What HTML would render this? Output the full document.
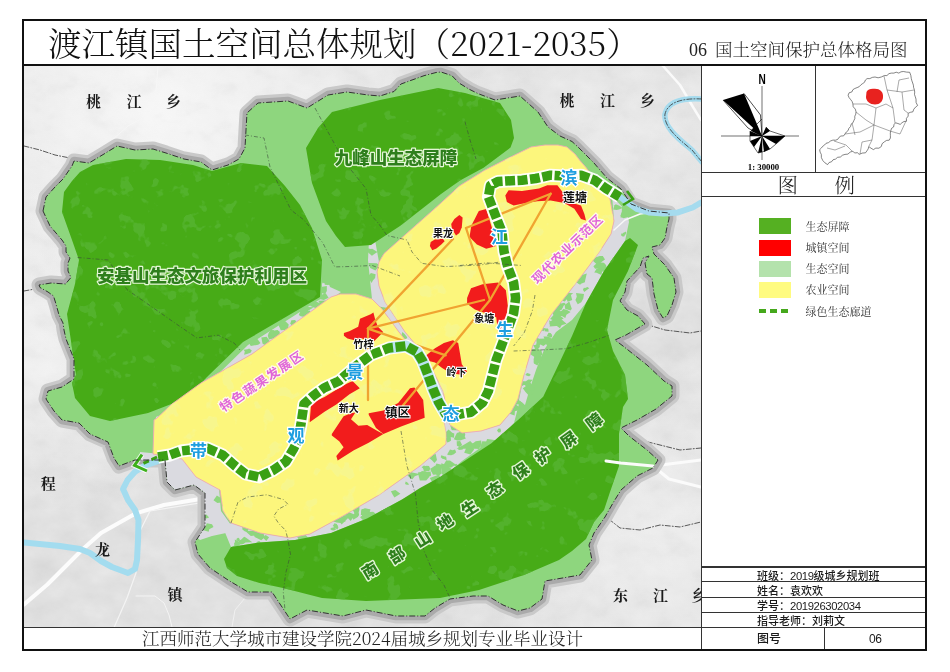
<!DOCTYPE html>
<html><head><meta charset="utf-8">
<style>
html,body{margin:0;padding:0;background:#fff;}
body{width:950px;height:672px;position:relative;overflow:hidden;font-family:"Liberation Serif","Noto Serif CJK SC",serif;}
.abs{position:absolute;}
#frame{left:22px;top:19px;width:901px;height:628px;border:2px solid #111;}
#title{left:48px;top:20px;height:44px;line-height:44px;font-size:33.5px;color:#111;white-space:nowrap;font-family:"Noto Serif CJK SC",serif;font-weight:300;}
#sub{left:689px;top:37px;font-size:17.5px;line-height:24px;color:#222;white-space:nowrap;font-family:"Noto Serif CJK SC",serif;font-weight:300;}
#hline1{left:24px;top:64px;width:901px;height:2px;background:#111;}
#map{left:24px;top:66px;width:677px;height:561px;overflow:hidden;}
#panel{left:701px;top:66px;width:224px;height:583px;border-left:1.5px solid #333;box-sizing:border-box;}
#foot{left:24px;top:627px;width:677px;height:22px;border-top:1px solid #333;text-align:center;font-size:17.5px;line-height:20px;color:#222;white-space:nowrap;font-family:"Noto Serif CJK SC",serif;font-weight:300;}
.ln{position:absolute;background:#333;}
.info{position:absolute;left:757px;font-family:"Noto Sans CJK SC",sans-serif;font-weight:500;font-size:11px;line-height:14px;color:#1a1a1a;white-space:nowrap;}
.info .d{font-family:"Liberation Sans",sans-serif;font-weight:normal;letter-spacing:-0.4px;font-size:11.3px;}
.leg{position:absolute;left:805.5px;font-family:"Noto Serif CJK SC",serif;font-size:11px;color:#333;white-space:nowrap;}
.sw{position:absolute;left:759px;width:32px;height:16px;}
</style></head><body>
<div id="frame" class="abs"></div>
<div id="title" class="abs">渡江镇国土空间总体规划（2021-2035）</div>
<div id="sub" class="abs"><span style="font-family:'Liberation Serif',serif;font-size:18px">06</span><span style="position:absolute;left:26px;top:0">国土空间保护总体格局图</span></div>
<div id="hline1" class="abs"></div>
<div id="map" class="abs">
<svg width="677" height="561" viewBox="24 66 677 561">
<defs>
<radialGradient id="bgl" cx="0.2" cy="0.08" r="0.5"><stop offset="0" stop-color="#f6f6f6"/><stop offset="1" stop-color="#f6f6f6" stop-opacity="0"/></radialGradient>
<radialGradient id="bgl2" cx="0.95" cy="0.85" r="0.35"><stop offset="0" stop-color="#ececec"/><stop offset="1" stop-color="#ececec" stop-opacity="0"/></radialGradient>
<radialGradient id="bgl3" cx="0.02" cy="0.5" r="0.3"><stop offset="0" stop-color="#f0f0f0"/><stop offset="1" stop-color="#f0f0f0" stop-opacity="0"/></radialGradient>
<radialGradient id="bgl4" cx="0.85" cy="0.12" r="0.3"><stop offset="0" stop-color="#e9e9e9"/><stop offset="1" stop-color="#e9e9e9" stop-opacity="0"/></radialGradient>
<path id="bnd" d="M43,211 L46,197 L55,187 L63,179 L72,166 L74,161 L89,163 L104,154 L117,146 L135,150 L153,149 L166,153 L184,159 L201,162 L212,170 L228,165 L239,159 L245,148 L246,130 L247,113 L258,103 L288,101 L307,108 L328,95 L347,92 L368,95 L380,96 L394,91.5 L401,84 L412,80 L424,75.7 L436,72.5 L441,72 L452,75.7 L459,83 L469.5,89.4 L478,93.6 L495,100 L520,96 L538,112 L548,127 L560,136 L572,141.5 L578,147 L586,155 L594,163 L600,170 L607,178 L621,189 L631,204 L649,211 L669,213 L669,219 L667,227 L665,238 L660,245 L652,247 L654,254 L665,265 L674,278 L676,292 L672,305 L667,316 L663,318 L658,310 L654,294 L652,278 L647,274 L645,263 L649,256 L643,258 L640,267 L627,281 L625,292 L620,301 L627,310 L638,316 L645,324 L626,335 L615,340 L623,346 L647,365 L664,381 L672,386 L672,396 L656,409 L637,420 L621,428 L629,436 L647,450 L658,460 L653,468 L637,476 L621,490 L613,503 L605,517 L594,533 L589,545 L592,560 L580,575 L545,581 L542,599 L530,608 L518,611 L503,605 L488,596 L473,596 L450,599 L435,608 L425,616 L396,616 L366,610 L343,616 L307,610 L290,619 L284,610 L272,592 L248,592 L228,580 L210,568 L198,554 L195,542 L205,527 L205,493 L194,485 L175,490 L167,482 L165,460 L135,460 L127,463 L119,466 L114,458 L108,442 L90,434 L79,423 L62,420 L54,411 L46,399 L48,391 L62,387 L74,379 L74,359 L66,339 L64,330 L63,323 L59,315 L56,304 L53.5,296 L48,292 L40,287.5 L39,285 L51,283 L65.5,284 L71,277.5 L68,271 L68,263 L70,258 L66,252 L66,246 L62,240 L50,226 Z"/>
<filter id="hill" x="0" y="0" width="1" height="1" filterUnits="objectBoundingBox" color-interpolation-filters="sRGB"><feTurbulence type="fractalNoise" baseFrequency="0.035 0.05" numOctaves="4" seed="21" result="n"/><feColorMatrix in="n" type="matrix" values="0 0 0 0 1  0 0 0 0 1  0 0 0 0 1  1.6 0 0 0 -0.75" result="w"/><feComposite in="w" in2="SourceAlpha" operator="in"/></filter>
<filter id="hill2" x="0" y="0" width="1" height="1" filterUnits="objectBoundingBox" color-interpolation-filters="sRGB"><feTurbulence type="fractalNoise" baseFrequency="0.035 0.05" numOctaves="4" seed="21" result="n"/><feColorMatrix in="n" type="matrix" values="0 0 0 0 0.5  0 0 0 0 0.5  0 0 0 0 0.5  -1.6 0 0 0 0.72" result="w"/><feComposite in="w" in2="SourceAlpha" operator="in"/></filter>
<clipPath id="townclip"><use href="#bnd"/></clipPath>
<filter id="mot" x="0" y="0" width="1" height="1" filterUnits="objectBoundingBox" color-interpolation-filters="sRGB"><feTurbulence type="fractalNoise" baseFrequency="0.06" numOctaves="3" seed="11" result="n"/><feColorMatrix in="n" type="matrix" values="0 0 0 0 0.34  0 0 0 0 0.71  0 0 0 0 0.2  16 0 0 0 -10.0" result="p"/><feComposite in="p" in2="SourceAlpha" operator="in"/></filter>
<filter id="moty" x="0" y="0" width="1" height="1" filterUnits="objectBoundingBox" color-interpolation-filters="sRGB"><feTurbulence type="fractalNoise" baseFrequency="0.05" numOctaves="3" seed="5" result="n"/><feColorMatrix in="n" type="matrix" values="0 0 0 0 0.96  0 0 0 0 0.97  0 0 0 0 0.6  16 0 0 0 -10.0" result="p"/><feComposite in="p" in2="SourceAlpha" operator="in"/></filter>
</defs>
<rect x="24" y="66" width="677" height="561" fill="#e0e0e0"/>
<rect x="24" y="66" width="677" height="561" fill="url(#bgl)"/>
<rect x="24" y="66" width="677" height="561" fill="url(#bgl2)"/>
<rect x="24" y="66" width="677" height="561" fill="url(#bgl3)"/>
<rect x="24" y="66" width="677" height="561" fill="url(#bgl4)"/>
<rect x="24" y="66" width="677" height="561" fill="#000" filter="url(#hill)" opacity="0.35"/>
<rect x="24" y="66" width="677" height="561" fill="#000" filter="url(#hill2)" opacity="0.12"/>
<g fill="none" stroke-linejoin="round" stroke-linecap="round">
<path d="M663,66 L680,85 L693,107 L701,120" stroke="#fafafa" stroke-width="2.5"/>
<path d="M220,495.7 L164,505 L136,513.3 L101,533 L82.4,549.5 L47.4,584.5 L24,604.5" stroke="#fcfcfc" stroke-width="4"/>
<path d="M136,596 L155,596 L164,603 L169,615 L172,627" stroke="#f4f4f4" stroke-width="1"/>
<path d="M212,501 L150,511 L139,533 L136,573 L127,598 L113,630" stroke="#f4f4f4" stroke-width="1.2"/>
<path d="M620,463 L653,466 L701,460" stroke="#fbfbfb" stroke-width="3"/>
<path d="M653,466 L669,479 L701,487" stroke="#fbfbfb" stroke-width="3"/>
<path d="M158,66 L156,91 L146,116 L128,126 L112,140" stroke="#f6f6f6" stroke-width="1"/>
<path d="M250,592 L235,610 L232,627" stroke="#f0f0f0" stroke-width="1"/>
<path d="M702,99 C685,98 668,101 665,114 C663,127 680,140 692,150 L702,162" stroke="#a5dbee" stroke-width="5.5"/>
<g stroke="#333" stroke-width="0.8" stroke-dasharray="5 2 1 2">
<path d="M702,99 C685,98 668,101 665,114 C663,127 680,140 692,150 L702,162"/>
<path d="M701,202.6 L692.7,207.5 L678,212.4 L663.4,213.6 L648.8,212.4"/>
<path d="M24,146 L40,150 L55,155 L70,158"/>
<path d="M24,291 L35,289 L42,287"/>
<path d="M645,324 L665,330 L690,333 L701,331"/>
<path d="M621,428 L640,440 L660,445 L680,450 L701,448"/>
<path d="M599,522 L610,520 L620,528 L640,530 L660,525 L680,527 L701,522"/>
</g>
</g>
<use href="#bnd" fill="none" stroke="#c9c9c9" stroke-width="15" stroke-linejoin="round"/>
<use href="#bnd" fill="none" stroke="#aaaaaa" stroke-width="8.5" stroke-linejoin="round"/>
<use href="#bnd" fill="#8ed67e"/>
<g clip-path="url(#townclip)">
<path fill="#dadae0" d="M341,292 L330,287 L326,276 L322,284 L322,298 L248,345 L212,380 L192,401 L156,417 L154,445 L160,420 L172,404 L201,383 L252,354 Z"/>
<path fill="#dadae0" d="M596,178 L612,195 L614,221 L611,234 L600,251 L589,266 L573,287 L551,315 L533,345 L524,375 L519,400 L525,405 L530,388 L536,370 L544,350 L556,332 L572,320 L586,303 L604,271 L625,241 L629,222 L627,212 L612,196 L600,182 Z"/>
<path fill="#dadae0" d="M446,430 L446,444 L420,466 L379,495 L343,516 L310,534 L290,538 L260,533 L231,523 L224,530 L231,547 L259.5,542.4 L295,540 L331,533 L367,518.6 L402,499.5 L420,490 L440,480 L462,461 L480,448 L500,438 L514,423 L520,400 L511,412 L500,425 L481,431 Z"/>
<path fill="#dadae0" d="M140,452 L183,456 L219,488 L221,511 L231,525 L226,533 L212,536 L200,540 L192,533 L172,522 L150,500 L140,470 Z"/>
<path fill="#dadae0" d="M369,240 L375,240 L379,262 L377,272 L379,286 L385,302 L405,332 L421,351 L433,371 L443,391 L450,425 L455,440 L446,446 L442,411 L435,395 L428,377 L419,361 L410,346 L399,332 L382,309 L372,299 L370,280 L368,260 Z"/>
<g fill="#8ed67e">
<path d="M328.6,297.7 L323.8,299.9 L319.3,299 L318.7,295.7 L325.7,293.3 Z"/>
<path d="M322.8,304.5 L315.4,307.9 L310.2,306 L310.4,301.1 L316.6,301.7 Z"/>
<path d="M326.8,291 L325.1,294 L322.7,293.6 L319.3,291 L317.6,288.1 L320.8,286.9 L326.8,286 Z"/>
<path d="M288.7,324.6 L287.8,329.7 L280.8,330.3 L278.4,324.6 L280.9,321 L285.4,321.3 Z"/>
<path d="M327.9,304.2 L325.8,305.3 L321.5,306.2 L318.2,300.8 L325.9,300.4 Z"/>
<path d="M280,332.1 L278.4,335 L276.5,334 L275,332.9 L274.5,331.6 L275.9,330.6 L278.4,330.8 Z"/>
<path d="M177.1,407.6 L174.9,408.7 L173.3,408.4 L172.3,407.5 L171.8,405.9 L173.5,404.8 L175.2,404.6 Z"/>
<path d="M163.8,415.5 L161.9,416.9 L161.2,417.4 L158.4,418.2 L158.5,416.3 L160.1,414.6 L161.5,413.3 L162.5,413.3 Z"/>
<path d="M177.4,406 L177.8,409.1 L175.6,408.4 L172.5,408.3 L173.9,405.4 L175.4,403.6 L178.1,403.3 Z"/>
<path d="M305.9,314.4 L304.3,317.1 L300.8,316.3 L298.8,314.9 L299.6,313 L301,310.4 L304.8,311.5 Z"/>
<path d="M330,282.9 L330.8,284.4 L327.9,285 L324.6,284.7 L325.2,283.1 L326.3,281.2 L328.4,281.5 L329,282 Z"/>
<path d="M190.9,398.3 L188.3,399.9 L186,400.7 L184.7,398.4 L186.8,397.1 L188,398 Z"/>
<path d="M285.4,327 L284.4,329 L281.9,328 L280,327.6 L279,325.8 L282.3,325.9 L283.5,325.1 Z"/>
<path d="M297.1,323.8 L295.7,326.2 L292.4,325.8 L290.2,323.7 L291.4,320.3 L295.2,319.9 Z"/>
<path d="M330.5,280.4 L330.8,283.2 L324.2,283.5 L322,282 L322,280.3 L323.7,276.8 L324.5,276.1 L329.1,274.8 Z"/>
<path d="M260.5,342.9 L258.2,344.7 L250.8,346 L247.6,340.8 L253.4,339.9 L256.4,337.8 Z"/>
<path d="M207.8,385.2 L206.7,389.6 L201.6,388.1 L201.7,383.6 L205.4,383.4 Z"/>
<path d="M282.2,333.5 L274.8,337.9 L273,338.4 L268.9,339.6 L267.8,335.7 L268.6,333.1 L270.8,330.1 L277,333.3 Z"/>
<path d="M270.8,342.8 L265.8,346 L262.5,343.6 L261.3,337.4 L266.6,336.8 Z"/>
<path d="M251.8,350.5 L250.5,352.7 L246.9,353.9 L244.1,354.8 L244.8,351.4 L243.6,349.7 L247.4,349.3 L249.2,348.6 Z"/>
<path d="M312.9,313.5 L312.6,315.1 L309.3,315 L306.6,315.1 L305.9,312.8 L309.3,310.3 L310.6,312.3 Z"/>
<path d="M162.2,421.5 L160.1,423.7 L156.6,425.5 L153.2,421.4 L157.1,419 L161.7,419.6 Z"/>
<path d="M278.6,333.2 L278.4,337.5 L275,334.9 L271.7,331 L277.9,330.1 Z"/>
<path d="M204.4,384.7 L202.9,387.5 L200.8,387.5 L199.4,386.4 L194.2,383.3 L201.5,383.5 L205.4,382.9 Z"/>
<path d="M308,310.8 L310.9,313.6 L305.3,317 L301.4,313.2 L298.2,309.3 L302.6,308.8 L306.5,307 L313.8,307.3 Z"/>
<path d="M273.9,332.3 L277.3,335 L272.9,336.7 L270.5,334.5 L269.6,332.4 L270.5,329.8 L273.5,330.3 L274.2,329.6 Z"/>
<path d="M552.1,334.8 L552.1,336.8 L551,337.8 L549.5,336.9 L546.8,335.9 L548.5,332.7 L550.6,333.1 L551.8,334.5 Z"/>
<path d="M605,259.4 L600.8,262.5 L598.1,265.6 L595.3,262.9 L592.6,260.5 L596,257.3 L599.7,256 L602.8,256 Z"/>
<path d="M570.8,296.5 L567.6,298.4 L564.6,301.6 L560.3,299.8 L561.1,295.8 L564.4,294.7 L568.5,293.9 Z"/>
<path d="M545.4,328.8 L543.3,331.3 L541.1,330 L541,327.9 L543.5,327.6 Z"/>
<path d="M555.9,340.7 L556.4,342.4 L547.3,345.9 L545,342.2 L544.1,338.1 L543.4,336.6 L548.6,336.6 L550.6,337.9 Z"/>
<path d="M561.8,324.8 L559.9,328.3 L557.2,326.2 L551.6,323.1 L556.7,320.1 L559.6,322.8 Z"/>
<path d="M571.8,308.7 L570.6,310.5 L565.1,308.7 L564.8,304.9 L569.3,301.6 Z"/>
<path d="M622.8,208 L618.9,209.6 L616.6,209.9 L613.2,209.5 L614.5,205.3 L615.8,204.3 L618.8,205.4 Z"/>
<path d="M606.2,265.3 L605.7,269.5 L601.3,268.2 L595.1,268.8 L593.4,266.2 L598.2,262.1 L601.2,262.4 L603.9,262.7 Z"/>
<path d="M548.4,329.4 L548.6,331.8 L546.3,331.6 L544.6,331.2 L544.7,328.3 L545.8,328.6 L547.9,328.6 Z"/>
<path d="M529.8,382.9 L532.2,384.9 L526.3,386.9 L524.4,384.3 L520.2,381.3 L525.8,381.2 L528.4,379.5 L532.8,379.7 Z"/>
<path d="M539.5,361.7 L536.9,363 L535.3,363.6 L534.4,362.9 L533.7,362.2 L534,361.1 L535.4,360.2 L537.4,359.9 Z"/>
<path d="M563.7,318.4 L561.3,319.8 L558.2,324.3 L555.3,321.1 L550.1,319 L553.3,315.2 L557.8,314.4 L560.5,315.9 Z"/>
<path d="M606.6,269.5 L605.3,271.5 L602.1,271.5 L600.6,272.9 L598.8,269 L596,265.6 L604.2,264.9 L607.4,267 Z"/>
<path d="M631.9,212.2 L628.5,216.9 L623.5,218.3 L620.3,216 L621.7,212.6 L624.2,211.1 L627.8,211.1 Z"/>
<path d="M539.3,347.8 L538.2,348.8 L536.3,351.8 L534.8,348.8 L534.8,347.9 L533,345.2 L537.4,344.5 L540.1,345.7 Z"/>
<path d="M625.1,234.6 L624.2,236.6 L622.5,236.6 L621.3,235.2 L621,233.5 L623.8,234.2 Z"/>
<path d="M570.6,312.1 L566.4,314.8 L565.3,317.9 L561.8,316.1 L558,311.5 L561.6,311 L563.3,308.9 L566.7,309.8 Z"/>
<path d="M589.3,288.3 L587.1,289.8 L584.3,292 L582.9,289.8 L583.9,287.8 L585.1,287.9 L587.5,287 Z"/>
<path d="M563.4,306.6 L561.2,310.2 L554.5,310 L556.3,306.7 L555.5,303.1 L560.7,302.2 Z"/>
<path d="M554.4,322.3 L553.5,323.7 L551,324.3 L549.2,324.6 L549.5,322.9 L549.1,320.3 L551.3,321.4 L552.4,321.8 Z"/>
<path d="M548.3,342.4 L543.4,346 L539,343.8 L541.1,340.3 L546.3,338.4 Z"/>
<path d="M585.2,280.3 L584.9,282.2 L579.6,284.2 L578.2,283.2 L579.2,277.8 L581.2,275.3 L586.8,273.5 Z"/>
<path d="M582.3,280.8 L580.3,284.7 L574.8,281.6 L575.7,278.4 L580.5,276.8 Z"/>
<path d="M565.9,304.2 L562.9,306.2 L562.5,307.1 L560.8,307.5 L559.1,304.6 L561.3,304 L562.1,303.3 L564.3,302.8 Z"/>
<path d="M566.6,323.8 L558.6,326 L556.2,326.1 L549.6,326.6 L550.9,321 L554.9,318.2 L560.5,318.6 Z"/>
<path d="M570.9,295.1 L572.2,299.9 L567.7,301.8 L565.8,297.1 L564.8,295 L566.5,292.4 L573.2,293.3 Z"/>
<path d="M631,212.7 L626.6,215 L623.5,217.6 L620.5,217.5 L621.8,211.8 L621.9,208.5 L622.2,206.5 L627.1,209.4 Z"/>
<path d="M531.2,390.2 L532.3,394.6 L529.2,396 L525.5,392.1 L522.8,388.2 L527.9,384.9 L531.6,388.8 Z"/>
<path d="M583.3,298.4 L581.3,302.3 L577.7,304.3 L575.4,300.1 L576.8,296.7 L576,292.9 L584,293.9 Z"/>
<path d="M561,322.4 L561.8,324.5 L558.7,323.6 L555.6,323.2 L557.3,320.7 L558.3,320 L559.8,321.2 Z"/>
<path d="M560.9,313.4 L563.1,315.7 L554.2,317.5 L553.6,315.6 L551.7,311 L552.1,306.4 L554.3,306.8 L559,307.7 Z"/>
<path d="M602.4,270.4 L601.4,275.1 L599.2,273.9 L596.5,272.8 L594.2,272.5 L596.6,268.8 L599.1,268 L601.6,268.4 Z"/>
<path d="M530.6,375.1 L529.2,376.2 L527.9,376.1 L527,375.8 L525.5,374.9 L525.8,373.9 L527.3,373.1 L530.1,374 Z"/>
<path d="M545.1,341.2 L541.1,343.3 L539.3,346 L535.9,346.5 L536.6,342.2 L535.6,335.6 L538.8,338.7 L546.3,338.4 Z"/>
<path d="M542.7,359 L539,362.8 L537.4,365.4 L533.9,363.6 L533.6,359.3 L534.5,356.3 L537.1,353.8 L541.5,356.3 Z"/>
<path d="M626.2,233.1 L625.4,234.5 L625.1,234.9 L623.6,234.7 L622.2,233.6 L623.9,232.5 L624.7,232.2 L625.9,231.4 Z"/>
<path d="M535,388.6 L533.3,391.1 L528.9,389.5 L526.8,389 L524.7,387.1 L527.6,386 L530.2,382.1 L532.2,386.3 Z"/>
<path d="M525.5,383.9 L525.9,385.1 L523.8,385 L522.1,385.9 L521.5,383.9 L522.5,382.8 L523.8,382.7 L525.7,383 Z"/>
<path d="M542.5,355.1 L536.6,358 L533.8,356.5 L528.7,353.3 L530.4,348.7 L541.1,349.5 Z"/>
<path d="M408.3,483.5 L408.9,484.9 L405.7,484.6 L405.2,483.5 L405.6,481.5 L407.2,482.3 Z"/>
<path d="M431.1,475.5 L429.3,476.4 L427.9,477.4 L423.1,477.4 L421.1,475.5 L421.5,471 L427.6,472.1 L430.6,471.4 Z"/>
<path d="M488.6,445.7 L485.6,447 L483.8,449.2 L480.4,448 L480.2,445.7 L481.8,443.5 L482.2,441.3 L487.8,441.6 Z"/>
<path d="M309.3,538.9 L302.5,540.6 L300.9,541.4 L298,540 L298.3,539.1 L296.5,535.5 L299.2,532.7 L305.1,534.4 Z"/>
<path d="M437,460.1 L434.4,463 L432.4,460.7 L428.4,457.2 L435.6,453.7 Z"/>
<path d="M523.6,403.6 L518.2,404.4 L515.3,403.8 L514.9,401.2 L519.5,400.9 Z"/>
<path d="M501,430.4 L500.6,432.3 L498.5,432.5 L497,430.5 L498.5,428.5 L500.3,428.5 Z"/>
<path d="M355,514.8 L350.7,520.9 L346.3,516.4 L344.3,511.6 L348.4,511.9 Z"/>
<path d="M370,511.4 L366.7,515.5 L363.4,515 L360.8,514.9 L361.5,509.4 L365.3,508.4 L370.4,509.3 Z"/>
<path d="M265,537.3 L261.2,540.3 L257.2,538.2 L254.6,537.1 L253.1,531.7 L262.4,530.9 Z"/>
<path d="M437.5,471.1 L435.4,473.1 L434,475.3 L432,472.4 L430.9,471 L430.4,468.7 L434.9,465.8 L436.6,469 Z"/>
<path d="M454.3,433.6 L454,437.7 L450.6,437.1 L446.6,437.2 L443.1,433.8 L446,431.9 L448.6,429.6 L452.2,432.7 Z"/>
<path d="M261,542.5 L259.8,543.3 L255.8,543.3 L257.6,541.6 L259.2,541.1 Z"/>
<path d="M474.1,449.4 L470.4,454.4 L464.2,452.8 L466.7,446.6 L471.8,444.9 Z"/>
<path d="M420.3,474.3 L414.7,476.3 L412.5,479.3 L409.8,477.7 L407.3,475.3 L410,470.7 L412.2,472.5 L415.9,473.3 Z"/>
<path d="M440,481.3 L439.5,482.6 L436.6,483.5 L434.3,484.5 L434.6,480.8 L432.3,477.2 L437.4,477.7 L440.6,477.8 Z"/>
<path d="M457.6,465.6 L456.6,466.1 L456,466.2 L454.4,466.1 L454.4,465.1 L456.1,463.8 L456.9,464.2 Z"/>
<path d="M455.7,464.5 L451,467.7 L443,465.8 L446.2,460.4 L450,460.6 Z"/>
<path d="M338.4,527.3 L337.5,529.4 L335.8,528.5 L332.6,528.8 L334.1,527.2 L335.3,526.4 L336.4,524.4 L337.4,525.2 Z"/>
<path d="M237.6,544.9 L240.8,547.6 L235.3,548.6 L231.7,547 L234.3,545.4 L234.1,543.1 L237.1,540.5 L237.2,543.1 Z"/>
<path d="M248.6,529.5 L247.7,531.1 L245,531.6 L242.4,529.4 L242.3,526.8 L244.7,526.9 L247.5,526.4 Z"/>
<path d="M450.9,439.1 L450.8,440.9 L448,441.5 L446.3,439.1 L444.9,437.9 L447.8,436.9 L450.5,435.1 Z"/>
<path d="M449.4,472.9 L447.6,476.7 L444.7,477.6 L441.3,473 L445.3,469.8 L449.7,467.7 Z"/>
<path d="M429.4,476.7 L426.2,480.4 L419.8,480.4 L417.8,472.5 L425.3,471.2 Z"/>
<path d="M375.5,513.6 L372.5,519 L369,517.7 L361.6,514.8 L368.9,512.1 L373.1,511.8 Z"/>
<path d="M258.8,533.2 L255.1,535.5 L250.8,535.9 L245.2,531.1 L252.4,530.7 L257.3,529.6 Z"/>
<path d="M348.6,517.4 L341.6,524.4 L338.3,519.9 L338.6,516.8 L344.9,514.7 Z"/>
<path d="M465.9,438.4 L460.1,440.6 L457.2,440.4 L453.8,439.3 L456.9,432.9 L461.4,431.6 Z"/>
<path d="M368.6,513 L366.6,513.6 L365.2,514.1 L362.3,516.3 L361.1,512 L361.7,509.5 L364.6,508.4 L367.8,509 Z"/>
<path d="M461.7,434.8 L462.4,436.6 L459.9,436.5 L457.3,434.6 L460,433.4 L462.3,432.6 Z"/>
<path d="M239.7,539.2 L239.8,541.4 L237.9,540.9 L236.4,540.3 L236.6,538.7 L238,537.8 L238.9,538.1 Z"/>
<path d="M345,517.3 L344.8,520 L340,520 L338.4,516.8 L341.1,513.5 L344.1,513 Z"/>
<path d="M450.7,440 L450.1,441 L448.9,442.1 L447,442.4 L445.5,439.2 L444,438.2 L448.2,437 L450.2,439.2 Z"/>
<path d="M451.7,469.3 L446.5,473.7 L441.5,473.3 L441.2,467.6 L441.3,463.3 L447.4,465.4 Z"/>
<path d="M371.4,517.1 L371.6,520.7 L364.3,521.6 L360.1,517.3 L364.6,513.3 L368.7,515.2 Z"/>
<path d="M345.8,521.3 L340.7,523.1 L336.6,522.6 L328.9,519.9 L336.1,517.3 L340.7,515.2 Z"/>
<path d="M456.2,452.2 L453.9,454.2 L451.2,455.2 L447.5,455.1 L447.4,453.9 L450,449.6 L452.7,450.2 L455,449.4 Z"/>
<path d="M522.2,409.3 L514.9,411.3 L514.6,415.4 L510.2,414.1 L508.3,409.8 L511,407.7 L514.1,403.3 L516.2,404.7 Z"/>
<path d="M499,440.7 L494.5,447.8 L485.1,444.8 L487.1,439.1 L491.2,439.4 Z"/>
<path d="M440.6,479.1 L436.9,486 L432.4,482.6 L429.8,478.1 L439.1,474.4 Z"/>
<path d="M463.3,448.2 L462.7,449.4 L461.2,449.7 L458.4,450 L458.6,446.8 L461.2,446.9 L463.3,446.9 Z"/>
<path d="M336.3,529.3 L334,530.4 L331.8,530.2 L330.1,529 L331.7,527.7 L333.8,527.5 Z"/>
<path d="M269.1,537.2 L266.3,540.9 L264,538.7 L263.5,536.9 L265.6,534.9 Z"/>
<path d="M241.6,543.2 L238.5,545.8 L235.2,544.6 L234.8,539.5 L239.2,541.7 Z"/>
<path d="M263,535.2 L260.9,536.4 L258.6,537.3 L257.7,536.4 L256.4,535.9 L257.5,533.5 L259.4,534.1 L262,533 Z"/>
<path d="M441.1,470.1 L441.5,473.5 L438.9,475.7 L434.5,473.8 L434.9,469.3 L434.3,468 L436.4,463.4 L442.8,465.1 Z"/>
<path d="M481.6,443.8 L479.1,449.1 L471.6,448.6 L471.7,444.3 L475.7,441.3 L481.1,440.4 Z"/>
<path d="M427.4,468.7 L427.4,470.8 L424.4,471.5 L424.3,469.2 L421.6,467.3 L423.9,465.6 L427.2,466.8 Z"/>
<path d="M337.4,525.2 L337.2,526.9 L333.9,527.7 L333.2,525.2 L334.5,523.2 L336.8,523.9 Z"/>
<path d="M359.1,515 L357.8,517 L353.3,519.7 L352,516.2 L354.1,514.1 L355.2,511.1 L358.7,513 Z"/>
<path d="M476.7,447.9 L468.5,448.8 L456.4,448.8 L463.5,445.1 L470.2,441 Z"/>
<path d="M462.1,444.9 L459.8,447.1 L456.9,445.8 L456.7,441.3 L460.1,441.1 Z"/>
<path d="M252.3,542.3 L245.5,542.6 L243.4,544 L240.6,544.5 L238.6,541.1 L241.3,539.4 L244.1,536.8 L245.7,537.6 Z"/>
<path d="M430.3,468.7 L429.1,471.3 L423.9,471.2 L423.1,467.9 L426.4,465.7 L429,466 Z"/>
<path d="M359.4,509.7 L357.7,515.9 L355.2,514.6 L353.5,511.3 L349.4,508 L354.5,507.3 L359.4,507.1 Z"/>
<path d="M441,471.1 L438.8,475 L436.2,474.4 L432.5,474.2 L432.5,472.5 L431.8,469.5 L436,469.7 L437.8,470.8 Z"/>
<path d="M465.3,434.6 L464.8,436.6 L462.5,437.8 L460,435.6 L458.7,434.7 L459.7,432.6 L462,431.1 L464.4,431.8 Z"/>
<path d="M474.8,447.1 L474.6,448.2 L470.5,448.6 L469.4,447.9 L467.3,447.9 L469,443.6 L472,443.5 L473.9,443.5 Z"/>
<path d="M400.4,493.7 L394.4,497.6 L392.6,494.6 L390.9,491.3 L395.4,490 Z"/>
<path d="M446.4,457.8 L446.6,460.5 L444.4,459.2 L442.4,458.8 L440.7,457.2 L441.3,455.3 L444.8,456.6 L446,456.5 Z"/>
<path d="M209.1,517.4 L206.3,518.5 L203.9,517.5 L204.2,515.7 L206.5,514.4 Z"/>
<path d="M213.5,527.1 L209.2,529.3 L208.7,531.8 L202.6,530.1 L202.8,527.2 L205.8,526.1 L206.7,523.3 L212,524.3 Z"/>
<path d="M203.6,525 L200.3,526.2 L197,525.5 L197.6,522.4 L200.4,522.9 Z"/>
<path d="M223.2,499.3 L220.9,502.5 L217.4,503.1 L213.5,500.2 L216.9,495.4 L221.2,498.2 Z"/>
<path d="M200.9,528.3 L199.1,529.9 L195.7,531.7 L191.9,533.7 L189.9,527.9 L191.7,525.9 L196.2,524.9 L198.7,526.5 Z"/>
<path d="M407.2,337.3 L406.8,338.5 L403.5,339.6 L400.1,338.5 L401.4,334.9 L402.4,331.9 L404.6,333.9 Z"/>
<path d="M380,265.6 L375.4,270.6 L370.2,268.1 L368.4,263.1 L376.6,263.3 Z"/>
<path d="M386.5,307.7 L383.1,310.7 L379.9,309.2 L379.2,306.4 L382.9,307.2 Z"/>
<path d="M377.5,251.9 L375.1,253.6 L371.9,255.8 L368.4,252.8 L367.1,250.8 L367.5,248.2 L370.8,249 L372.2,248.7 Z"/>
<path d="M452.6,408.7 L446.9,410.5 L441.7,408.6 L441,406.3 L446,404.9 Z"/>
<path d="M438.2,375.5 L436.3,379.8 L429.6,379 L429.8,375.5 L428.1,371.6 L433.8,372.1 Z"/>
<path d="M442.9,402.2 L439.2,402.9 L438.5,403 L434.1,401.9 L434.9,399.1 L437.4,397.4 L440.1,399.6 Z"/>
<path d="M375.1,278.1 L372.9,280.4 L371.6,282.9 L369.2,279.3 L367.9,276.6 L370.9,273 L375.6,274.3 Z"/>
</g>
<path fill="#47ab17" d="M62,212 L64,192 L72,181 L80,172 L93,165 L126,159 L160,160 L193,165 L212,171 L241,163 L267,166 L285,186 L300,205 L312,228 L322,260 L320,297 L243,342 L207,377 L187,398 L148,413 L110,421 L90,416 L75,398 L72,383 L76,375 L67,314 L75,284 L79,260 L72,240 Z"/>
<path fill="#000" filter="url(#mot)" opacity="0.8" d="M62,212 L64,192 L72,181 L80,172 L93,165 L126,159 L160,160 L193,165 L212,171 L241,163 L267,166 L285,186 L300,205 L312,228 L322,260 L320,297 L243,342 L207,377 L187,398 L148,413 L110,421 L90,416 L75,398 L72,383 L76,375 L67,314 L75,284 L79,260 L72,240 Z"/>
<path fill="#47ab17" d="M306,148 L318,128 L332,112 L380,100 L438,88 L465,93 L500,103 L511,120 L514,138 L510.5,147.6 L483.6,167.8 L460,180.4 L441,194 L400,226 L371,245 L345,247 L336,236 L326,221 L312,183 Z"/>
<path fill="#000" filter="url(#mot)" opacity="0.8" d="M306,148 L318,128 L332,112 L380,100 L438,88 L465,93 L500,103 L511,120 L514,138 L510.5,147.6 L483.6,167.8 L460,180.4 L441,194 L400,226 L371,245 L345,247 L336,236 L326,221 L312,183 Z"/>
<path fill="#47ab17" d="M224,559 L231,547 L259.5,542.4 L295,540 L331,533 L367,518.6 L402,499.5 L420,488 L440,477 L456,466.4 L491.4,443.2 L520,418.2 L543.2,396.8 L556,370 L572,336 L586,303 L604,271 L625,241 L630,238 L638,245 L628,271 L613,300 L607,330 L613,351 L625,375 L628,399 L623,407 L619,434 L619,466 L610,492 L604,510 L594,522 L586,539 L572,551 L559,560 L524,575 L479,590 L440,598 L366,601 L322,598 L283,588 L259.5,583 L237,576 L227,568 Z"/>
<path fill="#000" filter="url(#mot)" opacity="0.8" d="M224,559 L231,547 L259.5,542.4 L295,540 L331,533 L367,518.6 L402,499.5 L420,488 L440,477 L456,466.4 L491.4,443.2 L520,418.2 L543.2,396.8 L556,370 L572,336 L586,303 L604,271 L625,241 L630,238 L638,245 L628,271 L613,300 L607,330 L613,351 L625,375 L628,399 L623,407 L619,434 L619,466 L610,492 L604,510 L594,522 L586,539 L572,551 L559,560 L524,575 L479,590 L440,598 L366,601 L322,598 L283,588 L259.5,583 L237,576 L227,568 Z"/>
</g>
<g fill="none" stroke-linejoin="round" stroke-linecap="round">
<path d="M606,461 L620.7,463 L653,466" stroke="#fbfbfb" stroke-width="3"/>
<path d="M614,230 L625,220 L640,214 L655,212" stroke="#f8f8f8" stroke-width="1.5"/>
<path d="M701,202.6 L692.7,207.5 L678,212.4 L663.4,213.6 L648.8,212.4 L636.6,208.8 L624,200 L610,189 L596,179" stroke="#a5dbee" stroke-width="6"/>
<path d="M172,452 L161.7,460 L145.3,465.4 L135,471.7 L127.6,480 L123,489 L128,500 L135,510 L138.5,520 L138,540 L137,560 L135,569 L128,573 L112,567 L101,561 L90,553 L80,549 L60,546 L24,542.5" stroke="#a3dcef" stroke-width="6"/>
</g>
<path fill="#fcf67c" stroke="#eea8b4" stroke-width="0.9" d="M384,253.5 L436,207.4 L460,185.5 L485,170 L510.5,157 L531,147 L545,145 L558,145 L567,147 L575,154 L580,160.6 L586,167.4 L591,174.2 L600,186 L610,199 L614,221 L611,234 L600,251 L589,266 L573,287 L551,315 L533,345 L524,375 L518,399 L511,412 L500,425 L481,431 L462,433 L450,425 L443,391 L433,371 L421,351 L405,332 L385,302 L379,286 L377,272 L379,262 Z"/>
<path fill="#fcf67c" stroke="#eea8b4" stroke-width="0.9" d="M154,420 L157,418 L172,404 L201,383 L252,354 L331,297 L340,294 L356,294 L372,299 L382,309 L399,332 L410,346 L419,361 L428,377 L435,395 L442,411 L446,433 L446,444 L420,466 L379,495 L343,516 L310,534 L290,538 L260,533 L231,523 L223,511 L220,490 L207,483 L196,477 L182,459 L153,454 Z"/>
<path fill="#000" filter="url(#moty)" opacity="0.6" d="M384,253.5 L436,207.4 L460,185.5 L485,170 L510.5,157 L531,147 L545,145 L558,145 L567,147 L575,154 L580,160.6 L586,167.4 L591,174.2 L600,186 L610,199 L614,221 L611,234 L600,251 L589,266 L573,287 L551,315 L533,345 L524,375 L518,399 L511,412 L500,425 L481,431 L462,433 L450,425 L443,391 L433,371 L421,351 L405,332 L385,302 L379,286 L377,272 L379,262 Z"/>
<path fill="#000" filter="url(#moty)" opacity="0.6" d="M154,420 L157,418 L172,404 L201,383 L252,354 L331,297 L340,294 L356,294 L372,299 L382,309 L399,332 L410,346 L419,361 L428,377 L435,395 L442,411 L446,433 L446,444 L420,466 L379,495 L343,516 L310,534 L290,538 L260,533 L231,523 L223,511 L220,490 L207,483 L196,477 L182,459 L153,454 Z"/>
<g fill="#f21c1c">
<path d="M505.3,195.4 L508.6,190.3 L522,191.1 L539,188.6 L547.3,185.3 L557.4,185.3 L562.5,192 L569.2,202.1 L581,205.5 L584.4,213.9 L586,220.6 L581,218.9 L574.3,208.8 L564.2,202.9 L550.7,200.4 L537.2,201.2 L522,203.8 L513.7,205.5 L506.9,202.1 Z"/>
<path d="M430.7,242 L434.8,239.6 L443,238.8 L444.6,241.2 L441.3,244.5 L436.4,248.6 L432.3,250.2 L429.9,246.1 Z"/>
<path d="M454.4,219.1 L459.4,215 L462.6,217.5 L461.8,227.3 L459.4,233 L456,235.5 L452,229 L451.2,224 Z"/>
<path d="M478.8,210.9 L486.2,209 L493.6,233.2 L495.5,246.2 L486.2,248.8 L476.9,244.4 L469.5,237 L471.3,225.8 Z"/>
<path d="M467.1,297.9 L471,288.2 L482.6,284.3 L498.1,282.4 L505.9,290.2 L507.8,305.7 L505.9,321.2 L502,328.9 L498.1,332.8 L496.2,317.3 L486.5,313.4 L474.9,309.5 L467.1,303.7 Z"/>
<path d="M343.9,333 L349.3,331.3 L358.2,326.8 L360,318.8 L370.7,314.3 L373.4,312.5 L375.2,319.6 L377.9,326.8 L383.2,332.1 L379.6,335.7 L374.3,341 L368.9,340.2 L361.8,338.4 L354.6,340.2 L347.5,338.4 L343.9,335.7 Z"/>
<path d="M426,355.4 L435,348.2 L443.9,342.9 L452.9,340.2 L458.2,342.9 L460,353.6 L461.8,364.3 L467.1,371.4 L463.6,375 L451,373.2 L442.1,367.9 L435,362.5 L427.9,360.7 Z"/>
<path d="M309.7,420.7 L311.2,403 L324.5,397.1 L336.3,389.7 L346.6,383.8 L352.5,380.9 L359.8,388.3 L349.5,394.2 L336.3,404.5 L324.5,411.8 L309.7,422.2 Z"/>
<path d="M331.8,434 L343.6,416.3 L351,413.3 L355.4,412.6 L351,419.2 L358.4,425.8 L367.2,425.1 L377.5,431 L383.4,434 L368.7,442.8 L353.9,450.2 L337.7,460.5 L336.3,456 L343.6,447.2 L339.2,441.3 L331.8,435.4 Z"/>
<path d="M368.7,413.3 L383.4,410.4 L398.2,403 L410,388.3 L414.4,387.5 L423.2,400 L424.7,417.7 L401.1,426.6 L383.4,434 L376,428 L368.7,414.8 Z"/>
</g>
<g stroke="#f0a431" stroke-width="2.3" fill="none" stroke-linecap="round">
<path d="M466,228 L550.7,193.7"/>
<path d="M550.7,193.7 L490,300"/>
<path d="M466,228 L490,300"/>
<path d="M368,328.6 L453,239"/>
<path d="M368,328.6 L484,300"/>
<path d="M368,328.6 L445.7,355.4"/>
<path d="M368,328.6 L368,400"/>
<path d="M490,300 L402.9,405.4"/>
</g>
<path d="M158,457 L170,455 L181,451 L207,448 L222.7,455 L234,465 L245.5,474 L259.3,477 L273,470.4 L285.9,461.6 L293.4,449 L298,440 L301,424 L304,404 L313,396 L324,388 L339,381 L356,366 L371,355 L389,348 L406,346 L417,352 L422.5,361 L428,375 L433,389 L438.6,402 L445.7,414 L459.4,414.2 L471,412.2 L482.6,402.6 L488.4,391 L492.3,375.4 L496.2,360 L502,344.4 L507.8,329 L513.6,313.4 L515.6,298 L513.6,282.4 L507.8,267 L504,251.4 L502,232 L494.3,212.6 L488.4,197 L490.4,185.5 L498,181.5 L506,181 L522,180.2 L535.6,178.5 L550.7,175.2 L564.2,176 L581,175.2 L594.5,180.2 L606.3,188.6 L619.8,197" fill="none" stroke="#ffffff" stroke-width="13" stroke-linejoin="round" opacity="0.95"/>
<path d="M389,348 L406,346 L417,352 L422.5,361 L428,375 L433,389 L438.6,402 L445.7,414 L452,414.5" fill="none" stroke="#b9e3f1" stroke-width="11" stroke-linejoin="round"/>
<path d="M158,457 L170,455 L181,451 L207,448 L222.7,455 L234,465 L245.5,474 L259.3,477 L273,470.4 L285.9,461.6 L293.4,449 L298,440 L301,424 L304,404 L313,396 L324,388 L339,381 L356,366 L371,355 L389,348 L406,346 L417,352 L422.5,361 L428,375 L433,389 L438.6,402 L445.7,414 L459.4,414.2 L471,412.2 L482.6,402.6 L488.4,391 L492.3,375.4 L496.2,360 L502,344.4 L507.8,329 L513.6,313.4 L515.6,298 L513.6,282.4 L507.8,267 L504,251.4 L502,232 L494.3,212.6 L488.4,197 L490.4,185.5 L498,181.5 L506,181 L522,180.2 L535.6,178.5 L550.7,175.2 L564.2,176 L581,175.2 L594.5,180.2 L606.3,188.6 L619.8,197" fill="none" stroke="#3aa014" stroke-width="9.5" stroke-dasharray="10 2.5" stroke-linejoin="round"/>
<path d="M157,457 L142,464" stroke="#3aa014" stroke-width="3" stroke-dasharray="6 3" fill="none"/>
<path d="M142,454.6 L134.5,465.4 L147,471" fill="none" stroke="#ffffff" stroke-width="5" opacity="0.8"/>
<path d="M142,454.6 L134.5,465.4 L147,471" fill="none" stroke="#3db01a" stroke-width="3"/>
<path d="M627,191 L633,199 L623,205" fill="none" stroke="#3aa014" stroke-width="2.6"/>
<g fill="none" stroke="#3c4a3c" stroke-width="0.7" stroke-dasharray="4 2 1 2" opacity="0.85">
<path d="M245,135 L264,138 L270,167 L291,210 L304,220 L322.8,242.8 L334.8,266.9 L350,266.5 L372.3,265.5 L400,276"/>
<path d="M315,108 L328,132 L344.5,161.8 L366,188.6 L371,215 L379,224 L387,235.5 L407,240 L412,252 L421.7,263.3 L444.6,266.6 L480,265 L500,262"/>
<path d="M465,121.6 L470,140 L476,159"/>
<path d="M77.6,257.5 L108.4,260 L127,289.6 L154,308.4 L180.7,327 L196.8,337.9 L218.2,335.2 L234.3,343.2 L240,350"/>
<path d="M231,523 L238,502 L247.6,497 L266.7,494.8 L283.3,499.5 L288,504.3 L278.6,509 L273.8,516 L278.6,523.3 L285.7,530.5 L288,540 L290.5,554.3 L285.7,573.3 L283.3,592.4 L285,610"/>
<path d="M401,431 L406.8,465.4 L415.4,493.8 L418.2,522.2 L423.9,550.6 L432.4,570.5 L443.8,584.7 L450,598"/>
<path d="M460,265.5 L486.8,262.9 L521.6,265.5"/>
<path d="M535,295 L532.3,311 L524.3,332.5 L513.6,346"/>
<path d="M513.6,351 L540,350 L567,348.6 L590,342 L610,335"/>
</g>
<use href="#bnd" fill="none" stroke="#333" stroke-width="1" stroke-dasharray="6 2 1 2"/>
<g font-family="Noto Serif CJK SC,serif" font-weight="bold" font-size="15" fill="#1a1a1a" text-anchor="middle">
<text x="93.6" y="107">桃</text><text x="134" y="107">江</text><text x="173.5" y="107">乡</text>
<text x="567" y="106">桃</text><text x="607.5" y="106">江</text><text x="647.5" y="106">乡</text>
<text x="48.3" y="489">程</text><text x="102.6" y="555">龙</text><text x="174.9" y="600">镇</text>
<text x="620.4" y="601">东</text><text x="660.4" y="601">江</text><text x="699" y="601">乡</text>
</g>
<g font-family="Noto Sans CJK SC,sans-serif" font-weight="900" fill="#2e7f1c" stroke="#e4f6d6" stroke-width="2.4" paint-order="stroke" stroke-linejoin="round">
<text x="396" y="164" font-size="17.5" text-anchor="middle">九峰山生态屏障</text>
<text x="202" y="282" font-size="17.5" text-anchor="middle">安基山生态文旅保护利用区</text>
<g font-size="16" stroke-width="2.8" text-anchor="middle">
<text transform="translate(369.9 570.5) rotate(-31)" y="6">南</text>
<text transform="translate(396.9 554.9) rotate(-31)" y="6">部</text>
<text transform="translate(422.5 539.2) rotate(-32)" y="6">山</text>
<text transform="translate(445.2 522.2) rotate(-32)" y="6">地</text>
<text transform="translate(469.4 508) rotate(-33)" y="6">生</text>
<text transform="translate(494.9 489.5) rotate(-34)" y="6">态</text>
<text transform="translate(520.5 471) rotate(-35)" y="6">保</text>
<text transform="translate(543.2 455.4) rotate(-35)" y="6">护</text>
<text transform="translate(568.8 439.8) rotate(-36)" y="6">屏</text>
<text transform="translate(594.4 421.3) rotate(-37)" y="6">障</text>
</g>
</g>
<g font-family="Noto Sans CJK SC,sans-serif" font-weight="bold" font-size="12.5" letter-spacing="1.6" fill="#e066d8" stroke="#fffce8" stroke-width="2.4" paint-order="stroke" text-anchor="middle">
<text transform="translate(262 381) rotate(-34)" y="4.5">特色蔬果发展区</text>
<text transform="translate(567.5 249) rotate(-44)" y="4.5" letter-spacing="0.8">现代农业示范区</text>
</g>
<g font-family="Noto Sans CJK SC,sans-serif" font-weight="bold" font-size="17" fill="#1e9ee0" stroke="#ffffff" stroke-width="2.5" paint-order="stroke" text-anchor="middle">
<text x="569" y="183.5">滨</text><text x="499.2" y="243">江</text><text x="504.8" y="336">生</text>
<text x="355" y="377.5">景</text><text x="450.9" y="419.6">态</text><text x="296" y="442">观</text><text x="198.5" y="457">带</text>
</g>
<g font-family="Noto Sans CJK SC,sans-serif" font-weight="bold" font-size="10" fill="#111" stroke="#ffffff" stroke-width="2" paint-order="stroke" text-anchor="middle">
<text x="575.1" y="201.5" font-size="12">莲塘</text>
<text x="443" y="236.5">果龙</text>
<text x="484.3" y="322">象塘</text>
<text x="363.5" y="348">竹梓</text>
<text x="456.4" y="376">岭下</text>
<text x="348.8" y="411.8">新大</text>
<text x="397.4" y="417" font-size="12.5">镇区</text>
</g>
</svg>
</div>
<div id="panel" class="abs"></div>
<!-- panel lines -->
<div class="ln" style="left:815px;top:66px;width:1px;height:106px;"></div>
<div class="ln" style="left:702px;top:172px;width:223px;height:1px;"></div>
<div class="ln" style="left:702px;top:196px;width:223px;height:1px;"></div>
<div class="ln" style="left:702px;top:566px;width:223px;height:1.5px;"></div>
<div class="ln" style="left:702px;top:581px;width:223px;height:1px;"></div>
<div class="ln" style="left:702px;top:597px;width:223px;height:1px;"></div>
<div class="ln" style="left:702px;top:612px;width:223px;height:1px;"></div>
<div class="ln" style="left:702px;top:627px;width:223px;height:1px;"></div>
<div class="ln" style="left:824px;top:627px;width:1px;height:22px;"></div>
<div class="abs" style="left:777.5px;top:171px;font-size:20.5px;line-height:26px;color:#222;font-family:'Noto Serif CJK SC',serif;font-weight:300;white-space:nowrap;">图<span style="display:inline-block;width:36.5px"></span>例</div>
<!-- compass + location -->
<svg class="abs" style="left:702px;top:66px" width="223" height="106" viewBox="702 66 223 106">
<line x1="762" y1="86" x2="762" y2="160" stroke="#111" stroke-width="0.6"/>
<line x1="721" y1="136" x2="799" y2="136" stroke="#111" stroke-width="0.6"/>
<text x="762" y="84.5" font-family="Liberation Sans,sans-serif" font-weight="bold" font-size="14" text-anchor="middle" transform="translate(762.8 0) scale(0.72 1) translate(-762.8 0)">N</text>
<path d="M723,100 L744,93.5 L762,136 Z" fill="#000"/>
<path d="M744,93.5 L760.5,115 L762,136 M723,100 L748,128 L762,136" fill="none" stroke="#000" stroke-width="0.7"/>
<path d="M762,136 L751,131 L755,126 Z M762,136 L766,127 L770,131 Z M762,136 L785,136 L776,144 Z M762,136 L770,149 L764,152 Z M762,136 L754,147 L750,141 Z M762,136 L750,136 L750,131 Z M762,136 L758,153 L762,152 Z" fill="#000"/>
<path d="M751,131 L755,126 L762,119 M766,127 L770,131 L785,136 L776,144 L770,149 L762,152 L758,153 L754,147 L750,141 L750,131" fill="none" stroke="#000" stroke-width="0.6"/>
<text x="763.5" y="169.5" font-family="Liberation Serif,serif" font-weight="bold" font-size="8.8" text-anchor="middle">1:&#160;30000</text>
<path d="M821.3,154.4 L820.1,152.1 L819.7,149.6 L821.3,148.1 L822.7,146.3 L824.6,145 L826,143.3 L828.4,142.7 L830.5,141 L832.9,140.1 L835.5,140.2 L837.7,139.4 L839.1,137.3 L840.9,136 L843.6,135.9 L845,133.9 L846.3,132 L848.1,130.6 L848.9,128.3 L850.5,126.6 L851.1,124.3 L852.9,122.8 L853.8,120.7 L854.8,118.6 L854.8,116.2 L855.8,114.1 L856,111.8 L855.3,109.1 L853.2,106.8 L852.9,103.9 L852.1,101.5 L850.6,99.5 L849,97.5 L848.1,95.2 L849.1,92.8 L851.8,92 L852.9,89.7 L854.8,88.5 L857.1,87.6 L859.2,86.7 L860.8,84.9 L862.6,83.6 L864.5,82.3 L865.4,80 L867.1,78.6 L869.8,78.6 L872.3,77.4 L875,77 L878.1,77.8 L881.3,77 L884.4,75.5 L886.9,75.6 L889,73.6 L891.4,73.1 L893.9,73.1 L896.2,72.2 L898.8,73.1 L901,71.8 L903.4,71.5 L906.5,72.1 L909.7,72.3 L910.8,75.4 L911.3,78.6 L911.9,80.8 L912.7,83 L913.4,85.2 L913.6,87.5 L914.4,89.7 L914.7,92.1 L914.5,94.5 L915.3,96.8 L916,99.1 L916.1,102.5 L917.6,105.5 L915.5,107.2 L913.8,109.2 L912.9,111.8 L910.4,112.3 L908.1,113.3 L908.2,116.1 L906.4,118.4 L906.5,121.2 L904,121.5 L902,122.7 L900.2,124.4 L897.9,123.5 L895.5,122.8 L894,124.6 L893.6,127 L891.5,128.4 L890.8,130.7 L890.3,133.1 L890.4,135.5 L890.4,138 L889.2,140.2 L886.6,140.4 L884.4,141.8 L882.1,143.7 L881.3,146.5 L878.9,148.2 L875.8,148.1 L873.4,149.6 L871,148.2 L868.7,146.5 L868.2,148.9 L866.9,150.9 L865.5,152.8 L862.2,153.1 L859.2,154.4 L857.4,152.7 L854.6,153 L852.9,151.2 L850.2,152.1 L847.9,154.1 L845,154.4 L842.5,155.2 L840.4,157 L837.6,157.3 L835.5,159.1 L833,159.8 L831.5,161.8 L829.1,162.5 L827.6,164.6 L825,162.9 L822.9,160.7 L821.4,157.7 Z" fill="#fff" stroke="#333" stroke-width="0.6"/>
<path d="M853,104 L866,104 L876,108 L886,104 L893,108 L895,123 M876,108 L874,125 L872,140 L869,146 M856,112 L866,120 L874,125 L890,131 M845,134 L860,132 L874,125 M834,141 L846,145 L852,151 M884,76 L887,90 L893,108 M887,90 L902,92 L914,90 M902,92 L904,110 L908,113 M852,123 L855,135 M827,148 L835,150 L845,146 M890,131 L900,134 L906,121 M860,154 L862,142 L872,140 M897,92 L899,80 L909,78" fill="none" stroke="#555" stroke-width="0.5"/>
<path d="M866.5,92 C868,88 873,88.5 877,89 C881,89.5 883.5,93 883,97 C883,101 880,104.5 875,104.5 C870,104.5 866,101 866,97 Z" fill="#e8221f"/>
</svg>
<!-- legend -->
<div class="sw" style="top:218px;background:#55b022;"></div>
<div class="sw" style="top:240px;background:#ff0000;"></div>
<div class="sw" style="top:261px;background:#b4e2ac;"></div>
<div class="sw" style="top:282px;background:#fffb80;"></div>
<svg class="abs" style="left:759px;top:307px" width="32" height="8"><line x1="0" y1="4" x2="30" y2="4" stroke="#45a81c" stroke-width="4" stroke-dasharray="7 4"/></svg>
<div class="leg" style="top:218px;">生态屏障</div>
<div class="leg" style="top:239px;">城镇空间</div>
<div class="leg" style="top:260px;">生态空间</div>
<div class="leg" style="top:281px;">农业空间</div>
<div class="leg" style="top:302.5px;">绿色生态廊道</div>
<!-- info -->
<div class="info" style="top:568px;">班级：<span class="d">2019</span>级城乡规划班</div>
<div class="info" style="top:583px;">姓名：袁欢欢</div>
<div class="info" style="top:598px;">学号：<span class="d">201926302034</span></div>
<div class="info" style="top:613px;">指导老师：刘莉文</div>
<div class="info" style="top:631px;font-size:12px;">图号</div>
<div class="info" style="top:631px;left:869px;"><span class="d" style="font-size:12px">06</span></div>
<div id="foot" class="abs">江西师范大学城市建设学院2024届城乡规划专业毕业设计</div>
</body></html>
